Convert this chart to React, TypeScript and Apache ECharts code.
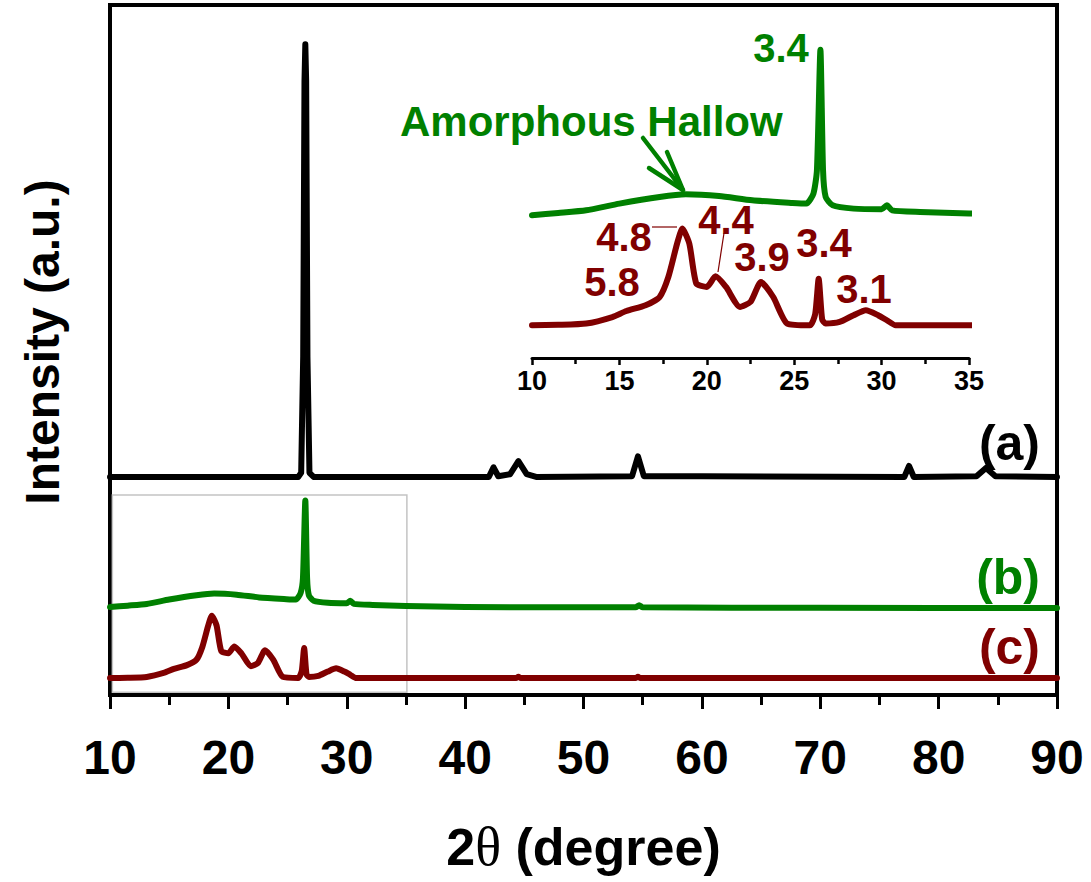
import React, { useEffect, useRef } from "react";
import * as echarts from "echarts";

// 2θ (degree) vs intensity (a.u.)
const sampleA: [number, number][] = [
  [10, 26], [20, 26], [25.9, 26], [26.15, 32], [26.32, 200], [26.43, 600], [26.5, 653],
  [26.57, 600], [26.68, 200], [26.85, 32], [27.2, 26], [35, 26], [42.0, 26], [42.4, 40],
  [42.8, 27], [43.8, 30], [44.5, 49], [45.2, 30], [46, 26], [54.1, 27], [54.6, 56],
  [55.1, 27], [60, 27], [77.1, 26], [77.5, 42], [77.9, 26], [83.2, 27], [84.0, 39],
  [84.8, 27], [90, 26],
];
const sampleB: [number, number][] = [
  [10, 27.4], [11.5, 29.5], [13.1, 32], [15, 38.3], [17.3, 44.5], [18.8, 47], [20.7, 45.4],
  [22.6, 41.4], [24.9, 38.9], [25.7, 38.3], [26.1, 47.7], [26.3, 69.4], [26.5, 182],
  [26.65, 69.4], [26.8, 44.5], [27.2, 36.7], [28.4, 33.6], [30.0, 33], [30.3, 36.7],
  [30.6, 32], [32.2, 30.5], [35, 29], [40, 27.5], [54.4, 27], [54.7, 30], [55, 27],
  [70, 26.5], [90, 26],
];
const sampleC: [number, number][] = [
  [10, 24.6], [11.5, 25], [13.1, 26.2], [14.6, 32.3], [15.4, 37.9], [16.5, 43.3], [17.3, 51],
  [17.8, 69.7], [18.3, 100.9], [18.6, 115], [19.0, 100.9], [19.4, 63.6], [20.0, 60.4],
  [20.5, 70.4], [21.1, 60.4], [21.9, 41.7], [22.5, 46.4], [23.1, 65], [23.8, 51], [24.6, 26.2],
  [25.9, 24.6], [26.2, 35], [26.4, 68], [26.6, 30], [26.8, 26.2], [27.6, 27.7], [28.4, 34],
  [29.1, 38.6], [29.8, 34], [30.3, 29.3], [30.8, 24.6], [35, 24.6], [44.3, 24.6], [44.5, 26.5],
  [44.7, 24.6], [54.4, 24.6], [54.6, 26.5], [54.8, 24.6], [90, 24.6],
];
const OFFSET_A = 290;
const OFFSET_B = 100;
const OFFSET_C = 0;

const mainRange = [10, 90, 10];
const insetRange = [10, 35, 5];
const curveNames = ["(a)", "(b)", "(c)"];
const insetLabelsRed = ["4.8", "4.4", "3.9", "3.4", "5.8", "3.1"];
const insetLabelGreen = "3.4";
const hallowText = "Amorphous Hallow";

const BLACK = "#000000";
const GREEN = "#008000";
const RED = "#800000";
const FONT = "'Liberation Sans', Arial, sans-serif";

const shift = (arr: [number, number][], off: number) => arr.map(([x, y]) => [x, y + off]);

function txt(text: string, x: number, y: number, color: string, size: number, align = "center") {
  return {
    type: "text",
    z: 100,
    style: {
      text, x, y, fill: color, fontSize: size, fontWeight: "bold", fontFamily: FONT,
      align, verticalAlign: "middle", textAlign: align, textVerticalAlign: "middle",
    },
  };
}

export default function App() {
  const ref = useRef<HTMLDivElement>(null);
  useEffect(() => {
    document.body.style.margin = "0";
    if (!ref.current) return;
    const chart = echarts.init(ref.current, undefined, { renderer: "svg" });
    const lineCommon = { type: "line", symbol: "none", showSymbol: false, silent: true };
    const redPos: [number, number][] = [[624, 237], [726, 220], [762, 257], [824, 243], [612, 282], [864, 289]];
    chart.setOption({
      animation: false,
      backgroundColor: "#ffffff",
      grid: [
        { left: 110, right: 34, top: 5, height: 690, show: true, borderColor: BLACK, borderWidth: 4, backgroundColor: "transparent" },
        { left: 532, width: 437, top: 37, height: 321, show: false },
      ],
      xAxis: [
        {
          gridIndex: 0, type: "value", min: mainRange[0], max: mainRange[1], interval: mainRange[2],
          name: "{n|2}{t|θ}{n| (degree)}", nameLocation: "middle", nameGap: 125,
          nameTextStyle: {
            rich: {
              n: { fontSize: 52, fontWeight: "bold", fontFamily: FONT, color: BLACK },
              t: { fontSize: 54, fontWeight: "normal", fontFamily: "'Liberation Serif', 'DejaVu Serif', serif", color: BLACK },
            },
          },
          axisLine: { show: true, onZero: false, lineStyle: { color: BLACK, width: 4 } },
          axisTick: { show: true, inside: false, length: 14, lineStyle: { color: BLACK, width: 3 } },
          minorTick: { show: true, splitNumber: 2, length: 10, lineStyle: { color: BLACK, width: 3 } },
          splitLine: { show: false },
          axisLabel: { fontSize: 48, fontWeight: "bold", fontFamily: FONT, color: BLACK, margin: 38 },
        },
        {
          gridIndex: 1, type: "value", min: insetRange[0], max: insetRange[1], interval: insetRange[2],
          axisLine: { show: true, onZero: false, lineStyle: { color: BLACK, width: 3, cap: "round" } },
          axisTick: { show: true, inside: false, length: 7, lineStyle: { color: BLACK, width: 2.5 } },
          minorTick: { show: true, splitNumber: 2, length: 6, lineStyle: { color: BLACK, width: 2.5 } },
          splitLine: { show: false },
          axisLabel: { fontSize: 27, fontWeight: "bold", fontFamily: FONT, color: BLACK, margin: 9 },
        },
      ],
      yAxis: [
        {
          gridIndex: 0, type: "value", min: 0, max: 1000,
          name: "Intensity (a.u.)", nameLocation: "middle", nameGap: 44, nameRotate: 90,
          nameTextStyle: { fontSize: 48, fontWeight: "bold", fontFamily: FONT, color: BLACK, padding: [0, 0, 0, 16] },
          axisLine: { show: false }, axisTick: { show: false }, axisLabel: { show: false }, splitLine: { show: false },
        },
        { gridIndex: 1, type: "value", min: -6, max: 294, show: false },
      ],
      series: [
        { ...lineCommon, name: "a", xAxisIndex: 0, yAxisIndex: 0, data: shift(sampleA, OFFSET_A),
          lineStyle: { color: BLACK, width: 6, join: "round", cap: "round" }, z: 3 },
        { ...lineCommon, name: "b", xAxisIndex: 0, yAxisIndex: 0, data: shift(sampleB, OFFSET_B), smooth: 0.2,
          lineStyle: { color: GREEN, width: 6, join: "round", cap: "round" }, z: 3 },
        { ...lineCommon, name: "c", xAxisIndex: 0, yAxisIndex: 0, data: shift(sampleC, OFFSET_C), smooth: 0.2,
          lineStyle: { color: RED, width: 6, join: "round", cap: "round" }, z: 3,
          markArea: {
            silent: true,
            itemStyle: { color: "rgba(0,0,0,0)", borderColor: "#c4c4c4", borderWidth: 1.5 },
            data: [[{ xAxis: 10.2, yAxis: 4 }, { xAxis: 35.08, yAxis: 290 }]],
          } },
        { ...lineCommon, name: "b-inset", xAxisIndex: 1, yAxisIndex: 1, data: shift(sampleB, OFFSET_B), smooth: 0.2,
          lineStyle: { color: GREEN, width: 6, join: "round", cap: "round" }, z: 3 },
        { ...lineCommon, name: "c-inset", xAxisIndex: 1, yAxisIndex: 1, data: shift(sampleC, OFFSET_C), smooth: 0.2,
          lineStyle: { color: RED, width: 6, join: "round", cap: "round" }, z: 3 },
      ],
      graphic: [
        txt(curveNames[0], 1040, 443, BLACK, 50, "right"),
        txt(curveNames[1], 1040, 577, GREEN, 50, "right"),
        txt(curveNames[2], 1040, 647, RED, 50, "right"),
        txt(insetLabelGreen, 781, 48, GREEN, 40),
        txt(hallowText, 400, 121, GREEN, 42, "left"),
        ...insetLabelsRed.map((t, i) => txt(t, redPos[i][0], redPos[i][1], RED, 40)),
        { type: "line", z: 100, shape: { x1: 652, y1: 227, x2: 677, y2: 227 }, style: { stroke: RED, lineWidth: 1.2 } },
        { type: "line", z: 100, shape: { x1: 724, y1: 233, x2: 718, y2: 272 }, style: { stroke: RED, lineWidth: 1.2 } },
        { type: "line", z: 100, shape: { x1: 643, y1: 138, x2: 683, y2: 190 }, style: { stroke: GREEN, lineWidth: 4.5, lineCap: "round" } },
        { type: "polyline", z: 100, shape: { points: [[649, 168], [683, 190], [667, 152]] },
          style: { stroke: GREEN, lineWidth: 4.5, lineCap: "round", lineJoin: "round", fill: "none" } },
      ],
    });
    return () => chart.dispose();
  }, []);
  return <div ref={ref} style={{ width: 1091, height: 882 }} />;
}
